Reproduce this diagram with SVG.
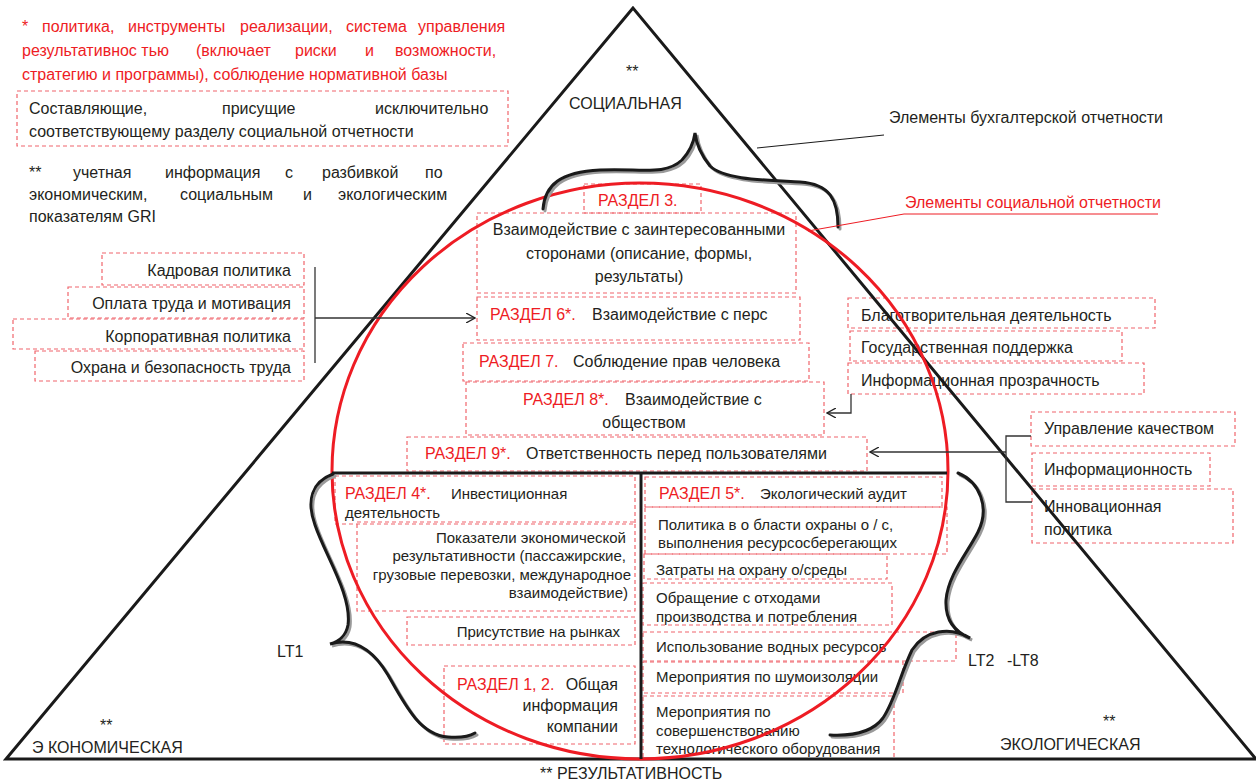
<svg xmlns="http://www.w3.org/2000/svg" width="1256" height="783" viewBox="0 0 1256 783">
<defs>
<style>
text{font-family:"Liberation Sans",Arial,sans-serif;font-size:16px;fill:#231f20}
.r{fill:#ee1c24}
.s15{font-size:15px}
.e{text-anchor:end}
.m{text-anchor:middle}
.box{fill:none;stroke:#f0656c;stroke-width:1.2;stroke-dasharray:4 3}
.thick{fill:none;stroke:#1a1a1a;stroke-width:3}
.brace{fill:none;stroke:#1a1a1a;stroke-width:3;stroke-linecap:round}
.shadow{fill:none;stroke:#9a9a9a;stroke-width:3;stroke-linecap:round}
.con{fill:none;stroke:#333;stroke-width:1.3}
</style>
<marker id="arr" viewBox="0 0 10 10" refX="9" refY="5" markerWidth="10" markerHeight="10" markerUnits="userSpaceOnUse" orient="auto">
<path d="M0,0 L9,5 L0,10" fill="none" stroke="#222" stroke-width="1.3"/>
</marker>
</defs>
<rect width="1256" height="783" fill="#fff"/>

<g id="legend">
<text class="r" x="22" y="32">*</text>
<text class="r" x="42" y="32">политика,</text>
<text class="r" x="128" y="32">инструменты</text>
<text class="r" x="240" y="32">реализации,</text>
<text class="r" x="346" y="32">система</text>
<text class="r" x="418" y="32">управления</text>
<text class="r" x="22" y="56">результативнос тью</text>
<text class="r" x="196" y="56">(включает</text>
<text class="r" x="295" y="56">риски</text>
<text class="r" x="365" y="56">и</text>
<text class="r" x="395" y="56">возможности,</text>
<text class="r" x="22" y="80">стратегию и программы), соблюдение нормативной базы</text>
<rect class="box" x="17" y="91" width="491" height="55"/>
<text x="29" y="114">Составляющие,</text>
<text x="222" y="114">присущие</text>
<text x="375" y="114">исключительно</text>
<text x="29" y="137">соответствующему разделу социальной отчетности</text>
<text x="29" y="178">**</text>
<text x="73" y="178">учетная</text>
<text x="165" y="178">информация</text>
<text x="285" y="178">с</text>
<text x="322" y="178">разбивкой</text>
<text x="425" y="178">по</text>
<text x="29" y="200">экономическим,</text>
<text x="180" y="200">социальным</text>
<text x="303" y="200">и</text>
<text x="338" y="200">экологическим</text>
<text x="29" y="222">показателям GRI</text>
</g>

<g id="section3">
<rect class="box" x="584" y="184" width="117" height="29"/>
<text class="r" x="598" y="206">РАЗДЕЛ 3.</text>
</g>
<g id="stakeholders">
<rect class="box" x="477" y="213" width="319" height="80"/>
<text class="m" x="639" y="235">Взаимодействие с заинтересованными</text>
<text class="m" x="639" y="259">сторонами (описание, формы,</text>
<text class="m" x="639" y="282">результаты)</text>
</g>
<g id="section6">
<rect class="box" x="477" y="297" width="323" height="43"/>
<text class="r" x="490" y="320">РАЗДЕЛ 6*.</text>
<text x="592" y="320">Взаимодействие с перс</text>
</g>
<g id="section7">
<rect class="box" x="463" y="343" width="346" height="38"/>
<text class="r" x="479" y="367">РАЗДЕЛ 7.</text>
<text x="573" y="367">Соблюдение прав человека</text>
</g>
<g id="section8">
<rect class="box" x="466" y="382" width="358" height="53"/>
<text class="r" x="523" y="405">РАЗДЕЛ 8*.</text>
<text x="625" y="405">Взаимодействие с</text>
<text class="m" x="644" y="428">обществом</text>
</g>
<g id="section9">
<rect class="box" x="407" y="437" width="460" height="34"/>
<text class="r" x="425" y="459">РАЗДЕЛ 9*.</text>
<text x="526" y="459">Ответственность перед пользователями</text>
</g>

<g id="staff-items">
<rect class="box" x="102" y="253" width="202" height="32"/>
<text class="e" x="291" y="276">Кадровая  политика</text>
<rect class="box" x="68" y="287" width="236" height="31"/>
<text class="e" x="291" y="309">Оплата труда и мотивация</text>
<rect class="box" x="13" y="319" width="291" height="30"/>
<text class="e" x="291" y="342">Корпоративная политика</text>
<rect class="box" x="35" y="351" width="269" height="30"/>
<text class="e" x="291" y="373">Охрана и безопасность труда</text>
</g>

<g id="society-items">
<rect class="box" x="848" y="298" width="307" height="30"/>
<text x="861" y="321">Благотворительная деятельность</text>
<rect class="box" x="850" y="331" width="272" height="30"/>
<text x="861" y="353">Государственная поддержка</text>
<rect class="box" x="848" y="363" width="296" height="31"/>
<text x="861" y="386">Информационная прозрачность</text>
</g>

<g id="user-items">
<rect class="box" x="1031" y="412" width="204" height="34"/>
<text x="1044" y="434">Управление качеством</text>
<rect class="box" x="1032" y="453" width="178" height="33"/>
<text x="1044" y="475">Информационность</text>
<rect class="box" x="1032" y="489" width="201" height="54"/>
<text x="1044" y="512">Инновационная</text>
<text x="1044" y="535">политика</text>
</g>

<g id="section4">
<rect class="box" x="335" y="476" width="300" height="48"/>
<text class="r" x="345" y="499">РАЗДЕЛ 4*.</text>
<text class="s15" x="451" y="499">Инвестиционная</text>
<text class="s15" x="345" y="518">деятельность</text>
</g>
<g id="econ-indicators">
<rect class="box" x="357" y="522" width="278" height="89"/>
<text class="s15 e" x="626" y="543">Показатели экономической</text>
<text class="s15 e" x="626" y="561">результативности (пассажирские,</text>
<text class="s15 e" x="631" y="580">грузовые перевозки, международное</text>
<text class="s15 e" x="628" y="598">взаимодействие)</text>
</g>
<g id="markets">
<rect class="box" x="407" y="617" width="228" height="28"/>
<text class="s15 e" x="620" y="637">Присутствие на рынках</text>
</g>
<g id="section12">
<rect class="box" x="444" y="666" width="191" height="78"/>
<text class="r" x="457" y="690">РАЗДЕЛ 1, 2.</text>
<text class="e" x="618" y="690">Общая</text>
<text class="e" x="618" y="711">информация</text>
<text class="e" x="618" y="732">компании</text>
</g>

<g id="section5">
<rect class="box" x="645" y="477" width="297" height="30"/>
<text class="r" x="659" y="499">РАЗДЕЛ 5*.</text>
<text class="s15" x="760" y="499">Экологический аудит</text>
</g>
<g id="eco-items">
<rect class="box" x="645" y="507" width="302" height="47"/>
<text class="s15" x="658" y="530">Политика в о бласти охраны о / с,</text>
<text class="s15" x="658" y="548">выполнения ресурсосберегающих</text>
<rect class="box" x="644" y="554" width="243" height="25"/>
<text class="s15" x="656" y="575">Затраты на охрану о/среды</text>
<rect class="box" x="643" y="583" width="249" height="42"/>
<text class="s15" x="656" y="603">Обращение с отходами</text>
<text class="s15" x="656" y="622">производства и потребления</text>
<rect class="box" x="643" y="632" width="313" height="29"/>
<text class="s15" x="656" y="652">Использование водных ресурсов</text>
<rect class="box" x="643" y="662" width="260" height="31"/>
<text class="s15" x="656" y="682">Мероприятия по шумоизоляции</text>
<rect class="box" x="643" y="696" width="251" height="63"/>
<text class="s15" x="656" y="717">Мероприятия по</text>
<text class="s15" x="656" y="736">совершенствованию</text>
<text class="s15" x="656" y="754">технологического оборудования</text>
</g>

<g id="labels">
<text x="626" y="77">**</text>
<text x="569" y="109">СОЦИАЛЬНАЯ</text>
<text x="889" y="123">Элементы бухгалтерской отчетности</text>
<text class="r" x="905" y="208">Элементы социальной отчетности</text>
<text x="277" y="657">LT1</text>
<text x="968" y="666">LT2</text>
<text x="1007" y="666">-LT8</text>
<text x="100" y="731">**</text>
<text x="32" y="753">Э КОНОМИЧЕСКАЯ</text>
<text x="1103" y="727">**</text>
<text x="1000" y="750">ЭКОЛОГИЧЕСКАЯ</text>
<text x="540" y="779">** РЕЗУЛЬТАТИВНОСТЬ</text>
</g>

<g id="shapes">
<polygon points="633,8 6,759 1256,759" fill="none" stroke="#1a1a1a" stroke-width="3"/>
<ellipse cx="640" cy="471" rx="308" ry="288" fill="none" stroke="#ee1c24" stroke-width="3"/>
<path class="thick" d="M332,473 H947"/>
<path class="thick" d="M641,473 V759"/>
<g transform="translate(2,2)">
<path class="shadow" d="M543,209 C545,185 560,172 600,170 S665,176 682,160 Q693,148 695,133 Q697,150 710,166 C725,180 765,180 800,182 C830,184 838,200 838,227"/>
<path class="shadow" d="M333,474 C312,482 306,500 315,525 C325,555 352,595 348,625 C346,636 338,642 330,644 C350,638 370,645 388,675 C405,705 420,735 448,737 C460,738 470,736 475,733"/>
<path class="shadow" d="M958,473 C980,482 990,508 978,532 C968,552 948,575 946,600 C945,620 955,632 970,638 C950,626 925,630 912,650 C900,675 895,700 883,718 C872,733 850,736 830,735"/>
</g>
<path class="brace" d="M543,209 C545,185 560,172 600,170 S665,176 682,160 Q693,148 695,133 Q697,150 710,166 C725,180 765,180 800,182 C830,184 838,200 838,227"/>
<path class="brace" d="M333,474 C312,482 306,500 315,525 C325,555 352,595 348,625 C346,636 338,642 330,644 C350,638 370,645 388,675 C405,705 420,735 448,737 C460,738 470,736 475,733"/>
<path class="brace" d="M958,473 C980,482 990,508 978,532 C968,552 948,575 946,600 C945,620 955,632 970,638 C950,626 925,630 912,650 C900,675 895,700 883,718 C872,733 850,736 830,735"/>
</g>

<g id="connectors">
<path class="con" d="M315,267 V363"/>
<path class="con" d="M315,318 H475" marker-end="url(#arr)"/>
<path class="con" d="M851,394 V413 H827" marker-end="url(#arr)"/>
<path class="con" d="M1031,436 H1006 V502 H1032"/>
<path class="con" d="M1006,452 H870" marker-end="url(#arr)"/>
<path d="M757,148 L884,135" fill="none" stroke="#1a1a1a" stroke-width="1"/>
<path d="M808,231 L904,214 H1158" fill="none" stroke="#ee1c24" stroke-width="1"/>
</g>
</svg>
